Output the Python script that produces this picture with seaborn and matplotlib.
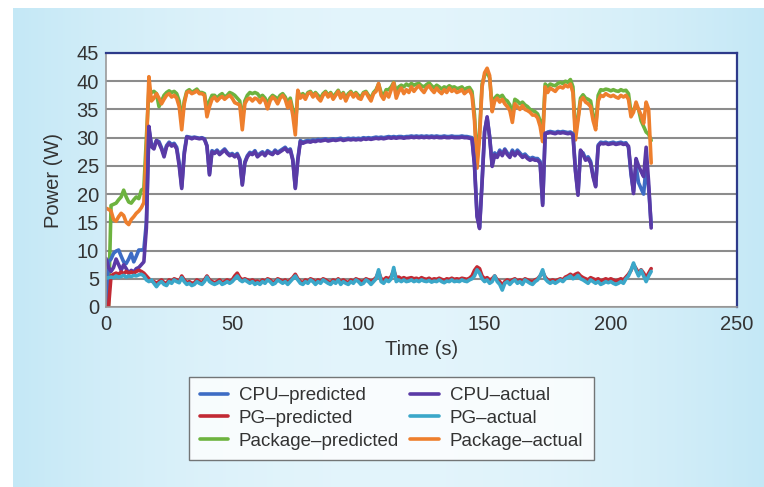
import numpy as np
import pandas as pd
import matplotlib
matplotlib.use("Agg")
import matplotlib.pyplot as plt
from matplotlib.lines import Line2D
import seaborn as sns

# time axis (s), one reading per second
time_s = list(range(0, 217))

pkg_actual = [
    17.5, 17.3, 17.0, 15.5, 15.2, 16.0, 16.6, 16.2, 15.0, 14.6,
    15.5, 16.0, 16.6, 17.0, 17.6, 18.5, 28.0, 40.8, 36.5, 37.0,
    37.8, 37.0, 36.0, 36.8, 37.5, 37.8, 37.2, 37.5, 37.0, 35.5,
    31.4, 36.0, 38.0, 38.2, 37.8, 38.0, 38.3, 37.8, 37.8, 37.5,
    33.7, 35.5, 36.8, 37.2, 36.5, 37.0, 37.3, 36.8, 37.2, 37.5,
    37.0, 36.2, 36.0, 35.8, 31.4, 36.0, 36.8, 37.0, 36.5, 37.0,
    36.8, 36.2, 37.0, 36.5, 35.1, 36.5, 37.2, 36.8, 36.0, 37.0,
    37.5, 36.8, 35.3, 36.5, 34.0, 30.5, 38.4, 37.0, 37.5, 36.8,
    37.8, 38.0, 37.2, 37.8, 37.0, 36.5, 37.5, 38.0, 37.2, 37.8,
    36.8, 37.5, 38.2, 37.0, 37.8, 36.5, 37.5, 38.0, 37.2, 37.8,
    37.0, 36.8, 37.8, 38.0, 37.2, 36.5, 37.8, 38.2, 39.6, 37.5,
    36.8, 38.0, 37.2, 38.5, 39.7, 37.0, 38.2, 38.8, 37.8, 38.5,
    38.0, 39.0, 38.2, 38.8, 39.2, 38.5, 38.0, 38.8, 39.2, 38.5,
    38.0, 38.8, 38.2, 37.8, 38.5, 38.0, 38.8, 38.2, 38.5, 38.0,
    38.2, 38.5, 37.8, 38.2, 38.4, 37.5, 33.0, 24.6, 30.0, 39.0,
    41.5, 42.3, 41.0, 34.6, 36.5, 37.0, 36.3, 36.8, 36.0, 35.5,
    34.8, 32.7, 36.0, 35.5, 35.0, 35.7, 35.0, 34.8, 34.5, 34.0,
    34.0, 33.5, 32.0, 29.3, 39.0, 38.0, 38.8, 38.5, 38.2, 38.8,
    39.0, 38.8, 39.3, 39.0, 39.5, 38.0, 29.6, 33.0, 36.5, 37.1,
    36.3, 36.0, 35.5, 33.0, 31.4, 36.5, 37.5, 37.3, 37.8, 37.5,
    37.3, 37.5, 37.2, 37.0, 37.5, 37.2, 37.5, 36.8, 33.7, 34.5,
    36.3, 35.0, 34.0, 32.5, 36.3, 35.0, 25.5,
]

pkg_predicted = [
    0.0, 0.0, 18.0, 18.2, 18.4, 19.0, 19.5, 20.7, 19.5, 18.6,
    18.4, 19.0, 19.5, 19.2, 20.7, 21.0, 30.0, 38.5, 38.0, 38.2,
    37.8, 35.5, 36.5, 37.5, 38.0, 38.3, 38.0, 38.2, 37.8, 36.5,
    33.0, 36.5, 38.2, 38.5, 38.0, 38.3, 38.6, 38.0, 38.0, 37.8,
    35.0, 36.5, 37.5, 37.5, 37.0, 37.5, 37.8, 37.2, 37.5, 38.0,
    37.8, 37.5, 37.0, 36.5, 33.0, 36.5, 37.5, 38.0, 37.8, 38.0,
    37.8, 37.2, 37.5, 37.0, 36.0, 37.0, 37.5, 37.2, 36.8, 37.5,
    37.8, 37.2, 36.2, 37.0, 35.0, 32.0, 38.0, 37.5, 37.8, 37.2,
    38.0, 38.2, 37.5, 38.0, 37.5, 37.0, 37.8, 38.2, 37.5, 38.0,
    37.2, 37.8, 38.4, 37.4, 38.0, 37.0, 37.8, 38.2, 37.5, 38.0,
    37.5, 37.2, 38.0, 38.2, 37.5, 37.0, 38.0, 38.5, 39.5, 38.0,
    37.5, 38.5, 38.5, 39.0, 39.8, 38.2, 39.0, 39.3, 39.0, 39.5,
    39.2, 39.6, 39.3, 39.5, 39.6, 39.2, 39.0, 39.4, 39.7, 39.2,
    38.8, 39.3, 39.0, 38.6, 39.0, 38.8, 39.2, 38.9, 39.0, 38.7,
    38.8, 39.0, 38.5, 38.8, 38.9, 38.2, 34.0, 26.0, 31.0, 39.5,
    41.0, 41.8, 40.5, 35.5, 37.0, 37.5, 37.2, 37.5, 36.8, 36.5,
    35.8, 34.0, 36.8, 36.5, 36.0, 36.3, 35.8, 35.5, 35.0, 34.8,
    34.6, 34.2, 33.0, 30.5, 39.5, 39.0, 39.5, 39.3, 39.2, 39.6,
    39.8, 39.6, 40.0, 39.8, 40.3, 39.0, 31.0, 33.5, 37.0, 37.6,
    37.0, 36.8, 36.5, 34.0, 32.0, 37.5, 38.5, 38.4, 38.6, 38.5,
    38.3, 38.5, 38.3, 38.2, 38.5, 38.3, 38.4, 37.8, 34.5, 35.0,
    35.5, 35.0, 33.0, 32.0, 31.0, 30.6, 29.5,
]

cpu_actual = [
    8.6, 7.0, 6.3, 7.0, 8.5, 7.5, 6.5, 7.5, 6.8, 6.0,
    6.5, 6.2, 6.8, 7.0, 7.5, 8.0, 14.0, 32.0, 28.4, 28.0,
    29.5, 29.0, 28.0, 26.6, 28.4, 29.0, 28.5, 28.8, 28.0, 25.0,
    21.0, 27.0, 30.1, 30.0, 29.8, 30.0, 29.9, 29.8, 29.9, 29.7,
    28.5, 23.4, 27.5, 27.2, 27.6, 27.0, 27.4, 27.8, 27.2, 26.8,
    27.0, 26.6, 27.0, 26.0, 21.6, 25.5, 26.6, 27.2, 27.0, 27.5,
    26.6, 27.0, 27.3, 26.8, 27.5, 27.2, 27.0, 27.6, 27.2, 27.5,
    27.8, 28.1, 27.5, 27.8, 26.0, 21.0, 26.0, 29.3, 29.0, 29.2,
    29.3, 29.2, 29.4, 29.3, 29.5, 29.4, 29.5, 29.6, 29.4, 29.5,
    29.6, 29.5, 29.6, 29.7, 29.5, 29.6, 29.7, 29.6, 29.7, 29.6,
    29.7, 29.6, 29.8, 29.7, 29.8, 29.7, 29.8, 29.9, 29.8, 29.9,
    29.8, 29.9, 30.0, 29.9, 30.0, 29.9, 30.0, 30.0, 29.9, 30.0,
    30.0, 30.1, 30.0, 30.1, 30.0, 30.1, 30.0, 30.1, 30.0, 30.1,
    30.0, 30.1, 30.0, 30.0, 30.1, 30.0, 30.0, 30.1, 30.0, 30.0,
    30.0, 30.1, 30.0, 30.0, 29.9, 29.8, 25.0, 16.0, 13.9, 22.0,
    31.0, 33.7, 30.0, 24.9, 27.0, 26.5, 27.5, 26.8, 27.8, 27.0,
    26.5, 27.5, 26.8, 27.5, 27.0, 26.5, 26.8, 26.3, 26.0, 26.2,
    26.0, 26.0, 25.5, 18.0, 30.8, 30.8, 30.9, 30.8, 30.7, 30.9,
    30.8, 30.9, 30.8, 30.7, 30.8, 30.5, 24.0, 19.8, 27.8, 27.0,
    26.0, 26.3, 25.5, 23.0, 21.3, 28.5, 29.0, 28.9, 29.0, 28.8,
    28.9, 29.0, 28.8, 28.9, 29.0, 28.8, 28.9, 28.5, 24.0, 20.1,
    26.3, 25.0, 24.0, 23.1, 28.3, 22.0, 14.0,
]

cpu_predicted = [
    0.0, 8.0, 8.5, 9.5, 9.9, 10.1, 9.0, 8.0, 7.7, 8.5,
    9.5, 8.0, 9.0, 10.1, 10.1, 10.2, 15.0, 31.5, 28.8, 28.5,
    29.5, 29.3, 28.2, 27.0, 28.6, 29.2, 28.8, 29.0, 28.3, 25.5,
    21.3, 27.5, 30.2, 30.1, 30.0, 30.1, 30.0, 29.9, 30.0, 29.8,
    28.6, 23.6, 27.7, 27.4, 27.8, 27.2, 27.6, 28.0, 27.4, 27.0,
    27.2, 26.8, 27.2, 26.2, 21.8, 25.7, 26.8, 27.4, 27.2, 27.7,
    26.8, 27.2, 27.5, 27.0, 27.7, 27.4, 27.2, 27.8, 27.4, 27.7,
    28.0, 28.3, 27.7, 28.0, 26.2, 21.2, 26.2, 29.5, 29.2, 29.4,
    29.5, 29.4, 29.6, 29.5, 29.7, 29.6, 29.7, 29.8, 29.6, 29.7,
    29.8, 29.7, 29.8, 29.9, 29.7, 29.8, 29.9, 29.8, 29.9, 29.8,
    29.9, 29.8, 30.0, 29.9, 30.0, 29.9, 30.0, 30.1, 30.0, 30.1,
    30.0, 30.1, 30.2, 30.1, 30.2, 30.1, 30.2, 30.2, 30.1, 30.2,
    30.2, 30.3, 30.2, 30.3, 30.2, 30.3, 30.2, 30.3, 30.2, 30.3,
    30.2, 30.3, 30.2, 30.2, 30.3, 30.2, 30.2, 30.3, 30.2, 30.2,
    30.2, 30.3, 30.2, 30.2, 30.1, 30.0, 25.3, 16.3, 14.2, 22.3,
    31.2, 33.5, 30.2, 25.2, 27.3, 26.8, 27.8, 27.1, 28.0, 27.3,
    26.8, 27.8, 27.1, 27.8, 27.3, 26.8, 27.1, 26.6, 26.3, 26.5,
    26.3, 26.3, 25.8, 18.3, 30.6, 31.0, 31.1, 31.0, 30.9, 31.1,
    31.0, 31.1, 31.0, 30.9, 31.0, 30.7, 24.3, 20.1, 27.5, 27.3,
    26.3, 26.6, 25.8, 23.3, 21.6, 28.7, 29.2, 29.1, 29.2, 29.0,
    29.1, 29.2, 29.0, 29.1, 29.2, 29.0, 29.1, 28.3, 23.5, 20.5,
    25.0, 22.0, 21.0, 20.0, 25.0, 21.0, 14.5,
]

pg_actual = [
    5.1, 5.2, 5.3, 5.2, 5.5, 5.3, 5.4, 5.6, 5.3, 5.5,
    5.4, 5.6, 5.5, 5.7, 5.8, 5.5, 4.8, 4.5, 4.8, 4.2,
    3.6, 4.2, 4.5, 4.0, 3.8, 4.5, 4.2, 4.8, 4.5, 4.3,
    5.2, 4.5, 4.0, 4.2, 3.8, 4.0, 4.5, 4.2, 4.0, 4.5,
    5.3, 4.5, 4.2, 4.0, 4.2, 4.5, 4.0, 4.2, 4.5, 4.2,
    4.5, 5.0, 5.5, 4.8, 4.5, 4.8, 4.5, 4.2, 4.5, 4.0,
    4.3, 4.0, 4.5, 4.2, 4.8, 4.5, 4.0, 4.2, 4.8, 4.5,
    4.2, 4.5, 4.0, 4.5, 5.0, 5.5, 4.8, 4.2, 4.0, 4.5,
    4.2, 4.8, 4.5, 4.0, 4.5, 4.2, 4.8, 4.5, 4.2, 4.0,
    4.5, 4.2, 4.8, 4.0, 4.5, 4.2, 4.0, 4.5, 4.2, 4.8,
    4.5, 4.0, 4.2, 4.8, 4.5, 4.0, 4.5, 5.0, 6.6, 4.5,
    4.2, 4.8, 4.5, 5.0, 7.0, 4.5, 4.8, 4.5, 4.8, 4.5,
    4.6, 4.8, 4.5, 4.7, 4.5, 4.8, 4.6, 4.5, 4.7, 4.4,
    4.6, 4.5, 4.8, 4.5, 4.3, 4.6, 4.5, 4.8, 4.5, 4.6,
    4.5, 4.8, 4.6, 4.5, 4.8, 5.0, 5.5, 6.6, 6.0, 5.0,
    4.5, 4.8, 4.2, 4.5, 5.5, 4.5, 4.0, 3.0, 4.2, 4.5,
    4.0, 4.5, 4.8, 4.2, 4.5, 4.0, 4.8, 4.5, 4.2, 4.0,
    4.5, 4.8, 5.5, 6.6, 5.0, 4.5, 4.2, 4.5, 4.2, 4.5,
    4.8, 4.5, 5.0, 5.2, 5.5, 5.0, 5.2, 5.6, 5.0, 4.8,
    4.5, 4.2, 4.8, 4.5, 4.2, 4.5, 4.0, 4.2, 4.5, 4.3,
    4.5, 4.2, 4.0, 4.2, 4.5, 4.2, 5.0, 5.5, 6.5, 7.8,
    6.5, 5.5, 6.5, 5.5, 4.5, 5.5, 6.3,
]

pg_predicted = [
    0.0, 0.0, 5.5, 5.8, 6.0, 5.8, 6.2, 5.9, 6.3, 6.0,
    6.2, 6.0, 6.3, 6.5, 6.3, 6.0, 5.5, 5.0, 4.6, 4.5,
    4.2, 4.5, 4.8, 4.3, 4.2, 4.8, 4.5, 5.0, 4.8, 4.5,
    5.5, 4.8, 4.3, 4.5, 4.2, 4.3, 4.8, 4.5, 4.3, 4.8,
    5.5, 4.8, 4.5, 4.3, 4.5, 4.8, 4.3, 4.5, 4.8, 4.5,
    4.8, 5.5, 6.0, 5.2, 4.8, 5.0, 4.8, 4.5, 4.8, 4.5,
    4.6, 4.3, 4.8, 4.5, 5.0, 4.8, 4.3, 4.5, 5.0, 4.8,
    4.5, 4.8, 4.3, 4.8, 5.2, 5.8, 5.0, 4.5, 4.3, 4.8,
    4.5, 5.0, 4.8, 4.3, 4.8, 4.5, 5.0, 4.8, 4.5, 4.3,
    4.8, 4.5, 5.0, 4.3, 4.8, 4.5, 4.3, 4.8, 4.5, 5.0,
    4.8, 4.5, 4.6, 5.0, 4.8, 4.5, 4.8, 5.2, 6.2, 5.0,
    4.8, 5.2, 5.0, 5.4, 6.5, 5.2, 5.3, 5.0, 5.2, 5.0,
    5.1, 5.2, 5.0, 5.1, 4.9, 5.2, 5.0, 4.9, 5.1, 4.8,
    5.0, 4.9, 5.1, 4.9, 4.7, 5.0, 4.9, 5.1, 4.9, 5.0,
    4.9, 5.1, 5.0, 4.9, 5.1, 5.5, 6.5, 7.1, 6.8, 5.5,
    5.0, 5.2, 4.8, 5.0, 5.5, 4.8, 4.5, 3.8, 4.5, 4.8,
    4.5, 4.8, 5.0, 4.6, 4.8, 4.5, 5.0, 4.8, 4.6, 4.5,
    4.8, 5.0, 5.5, 6.2, 5.3, 4.8, 4.6, 4.8, 4.6, 4.8,
    5.0, 4.8, 5.3, 5.5, 5.8, 5.5, 5.8, 6.0, 5.5, 5.2,
    5.0, 4.8, 5.2, 5.0, 4.8, 5.0, 4.6, 4.8, 5.0, 4.8,
    5.0, 4.8, 4.6, 4.8, 5.0, 4.8, 5.3, 5.8, 6.5, 7.5,
    6.8, 6.0, 6.6, 6.0, 5.2, 6.0, 6.8,
]

series = {
    "CPU\u2013predicted": cpu_predicted,
    "PG\u2013predicted": pg_predicted,
    "Package\u2013predicted": pkg_predicted,
    "CPU\u2013actual": cpu_actual,
    "PG\u2013actual": pg_actual,
    "Package\u2013actual": pkg_actual,
}
colors = {
    "CPU\u2013predicted": "#3d6cc4",
    "PG\u2013predicted": "#c22a34",
    "Package\u2013predicted": "#6db33f",
    "CPU\u2013actual": "#5a3aa6",
    "PG\u2013actual": "#3ba7c9",
    "Package\u2013actual": "#ee7f2d",
}
legend_order = list(series.keys())
draw_order = ["Package\u2013predicted", "Package\u2013actual", "CPU\u2013predicted",
              "CPU\u2013actual", "PG\u2013predicted", "PG\u2013actual"]

df = pd.concat(
    [pd.DataFrame({"time": time_s, "power": vals, "series": name}) for name, vals in series.items()],
    ignore_index=True,
)

sns.set_style("white")
plt.rcParams["font.family"] = ["Liberation Sans", "DejaVu Sans"]

W, H = 764, 487
fig = plt.figure(figsize=(W / 100, H / 100), dpi=100, facecolor="white")

# light blue panel behind the chart
bg = fig.add_axes([13 / W, 0, 1 - 13 / W, 1 - 8 / H], zorder=0)
grad = np.linspace(0, 1, 300)
edge = np.array([0.77, 0.91, 0.965])
mid = np.array([0.89, 0.958, 0.985])
w = 1 - (2 * grad - 1) ** 2
img = edge[None, :] * (1 - w[:, None]) + mid[None, :] * w[:, None]
bg.imshow(img[None, :, :], aspect="auto", extent=[0, 1, 0, 1])
bg.set_axis_off()

ax = fig.add_axes([106 / W, (H - 307) / H, (737 - 106) / W, (307 - 53) / H], zorder=1)
ax.set_facecolor("white")

sns.lineplot(data=df, x="time", y="power", hue="series", hue_order=draw_order,
             palette=colors, estimator=None, sort=False, linewidth=2.6, ax=ax, legend=False)

ax.set_xlim(0, 250)
ax.set_ylim(0, 45)
ax.set_xticks(range(0, 251, 50))
ax.set_yticks(range(0, 46, 5))
ax.yaxis.grid(True, color="#8c8c8c", linewidth=1.5)
ax.xaxis.grid(False)
ax.set_axisbelow(True)
for s in ["top", "right"]:
    ax.spines[s].set_color("#2d3a8a")
    ax.spines[s].set_linewidth(1.6)
for s in ["left", "bottom"]:
    ax.spines[s].set_color("#9a9a9a")
    ax.spines[s].set_linewidth(1.2)
ax.tick_params(axis="x", length=3, color="#9a9a9a", labelsize=14.5, labelcolor="#333333", pad=3)
ax.tick_params(axis="y", length=0, labelsize=14.5, labelcolor="#333333", pad=5)
ax.set_xlabel("Time (s)", fontsize=14.5, color="#333333", labelpad=4)
ax.set_ylabel("Power (W)", fontsize=14.5, color="#333333", labelpad=10)

handles = [Line2D([], [], color=colors[n], linewidth=2.6) for n in legend_order]
leg = fig.legend(handles, legend_order, loc="center", bbox_to_anchor=(0.5124, 0.141),
                 ncol=2, fontsize=13.5, frameon=True, fancybox=False, handlelength=1.5,
                 handletextpad=0.6, columnspacing=0.6, labelspacing=0.3, borderpad=0.55)
leg.get_frame().set_edgecolor("#555555")
leg.get_frame().set_linewidth(1.0)
leg.get_frame().set_facecolor("white")
for t in leg.get_texts():
    t.set_color("#333333")

fig.savefig("out.png", dpi=100, facecolor="white")
